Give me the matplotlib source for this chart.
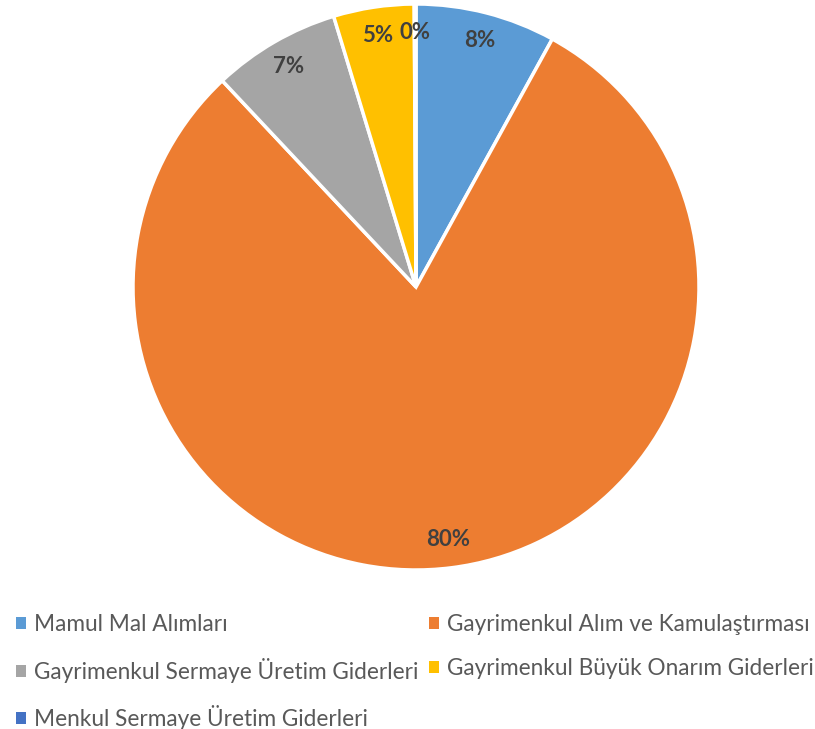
import numpy as np
import matplotlib
matplotlib.use("Agg")
import matplotlib.pyplot as plt
from matplotlib.patches import Patch

plt.rcParams['font.family'] = ['Lato', 'DejaVu Sans']

labels = ["Mamul Mal Alımları", "Gayrimenkul Alım ve Kamulaştırması",
          "Gayrimenkul Sermaye Üretim Giderleri", "Gayrimenkul Büyük Onarım Giderleri",
          "Menkul Sermaye Üretim Giderleri"]
values = [8.0, 80.0, 7.3, 4.6, 0.1]
colors = ["#5B9BD5", "#ED7D31", "#A5A5A5", "#FFC000", "#4472C4"]

W, H = 815, 729
fig = plt.figure(figsize=(W / 100, H / 100), dpi=100)
cx, cy, r = 416, 287, 283
ax = fig.add_axes([(cx - r) / W, 1 - (cy + r) / H, 2 * r / W, 2 * r / H])

wedges, texts, autotexts = ax.pie(
    values, colors=colors, startangle=90, counterclock=False,
    autopct=lambda p: f"{p:.0f}%", pctdistance=0.9,
    wedgeprops=dict(edgecolor="white", linewidth=2.5),
    textprops=dict(fontsize=16, fontweight="bold", color="#404040"))
ax.set_xlim(-1, 1)
ax.set_ylim(-1, 1)
ax.set_aspect("equal")
ax.axis("off")

# row-major order like the original legend
order = [0, 2, 4, 1, 3]
handles = [Patch(facecolor=colors[i], edgecolor="none") for i in order]
fig.legend(handles, [labels[i] for i in order], loc="upper left",
           bbox_to_anchor=(7 / W, 1 - 605 / H),
           ncol=2, frameon=False, fontsize=16.3, labelcolor="#595959",
           handlelength=0.45, handleheight=0.45, handletextpad=0.35,
           columnspacing=0.45, labelspacing=1.0, borderaxespad=0)

fig.savefig("out.png", dpi=100)
